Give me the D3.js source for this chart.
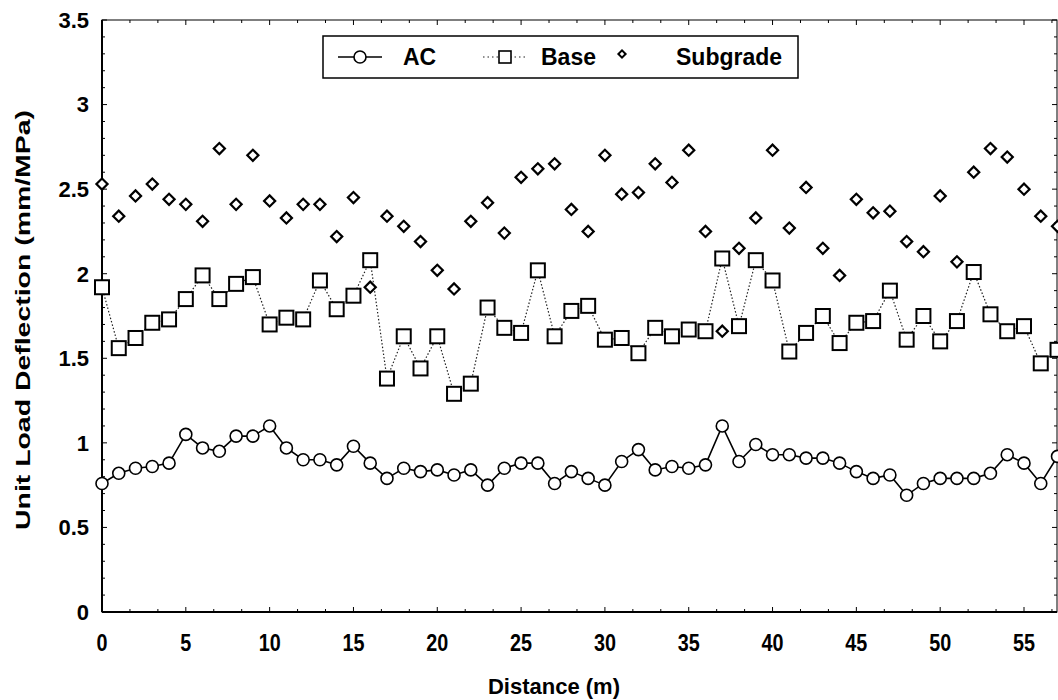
<!DOCTYPE html>
<html>
<head>
<meta charset="UTF-8">
<title>Unit Load Deflection</title>
<script src="https://d3js.org/d3.v7.min.js"></script>
<style>
  body { margin: 0; background: #fff; }
  svg text { font-family: "Liberation Sans", Arial, sans-serif; font-weight: bold; fill: #000; }
</style>
</head>
<body>
<div id="chart"></div>
<script>
// distance along the section (m)
const distance = [0,1,2,3,4,5,6,7,8,9,10,11,12,13,14,15,16,17,18,19,20,21,22,23,24,25,26,27,28,29,
  30,31,32,33,34,35,36,37,38,39,40,41,42,43,44,45,46,47,48,49,50,51,52,53,54,55,56,57];

// unit load deflection (mm/MPa)
const acValues = [0.76,0.82,0.85,0.86,0.88,1.05,0.97,0.95,1.04,1.04,1.10,0.97,0.90,0.90,0.87,0.98,0.88,0.79,0.85,0.83,
  0.84,0.81,0.84,0.75,0.85,0.88,0.88,0.76,0.83,0.79,0.75,0.89,0.96,0.84,0.86,0.85,0.87,1.10,0.89,0.99,
  0.93,0.93,0.91,0.91,0.88,0.83,0.79,0.81,0.69,0.76,0.79,0.79,0.79,0.82,0.93,0.88,0.76,0.92];
const baseValues = [1.92,1.56,1.62,1.71,1.73,1.85,1.99,1.85,1.94,1.98,1.70,1.74,1.73,1.96,1.79,1.87,2.08,1.38,1.63,1.44,
  1.63,1.29,1.35,1.80,1.68,1.65,2.02,1.63,1.78,1.81,1.61,1.62,1.53,1.68,1.63,1.67,1.66,2.09,1.69,2.08,
  1.96,1.54,1.65,1.75,1.59,1.71,1.72,1.90,1.61,1.75,1.60,1.72,2.01,1.76,1.66,1.69,1.47,1.55];
const subgradeValues = [2.53,2.34,2.46,2.53,2.44,2.41,2.31,2.74,2.41,2.70,2.43,2.33,2.41,2.41,2.22,2.45,1.92,2.34,2.28,2.19,
  2.02,1.91,2.31,2.42,2.24,2.57,2.62,2.65,2.38,2.25,2.70,2.47,2.48,2.65,2.54,2.73,2.25,1.66,2.15,2.33,
  2.73,2.27,2.51,2.15,1.99,2.44,2.36,2.37,2.19,2.13,2.46,2.07,2.60,2.74,2.69,2.50,2.34,2.28];

const xTicks = [0,5,10,15,20,25,30,35,40,45,50,55];
const yTicks = [0,0.5,1,1.5,2,2.5,3,3.5];
const seriesNames = ["AC", "Base", "Subgrade"];

const width = 1058, height = 700;
const plotLeft = 102, plotRight = 1057, plotTop = 20, plotBottom = 612;

const svg = d3.select("#chart").append("svg")
  .attr("width", width)
  .attr("height", height);

const x = d3.scaleLinear().domain([0, 55]).range([plotLeft, 1024]);
const y = d3.scaleLinear().domain([0, 3.5]).range([plotBottom, plotTop]);

// frame: heavy left and bottom axes, light top and right
svg.append("rect")
  .attr("x", plotLeft).attr("y", plotTop)
  .attr("width", plotRight - plotLeft).attr("height", plotBottom - plotTop)
  .attr("fill", "none").attr("stroke", "#000").attr("stroke-width", 1);
svg.append("line").attr("x1", plotLeft).attr("x2", plotLeft).attr("y1", plotTop).attr("y2", plotBottom)
  .attr("stroke", "#000").attr("stroke-width", 2);
svg.append("line").attr("x1", plotLeft).attr("x2", plotRight).attr("y1", plotBottom).attr("y2", plotBottom)
  .attr("stroke", "#000").attr("stroke-width", 2);

// inward ticks on all four sides
const yMinor = d3.range(0, 3.51, 0.1);
const xMinor = d3.range(0, 57.1, 5 / 3);
const isHalf = d => Math.abs(d * 2 - Math.round(d * 2)) < 0.01;

const ticks = svg.append("g").attr("stroke", "#000").attr("stroke-width", 1);
ticks.selectAll(".ylm").data(yMinor).join("line")
  .attr("x1", plotLeft).attr("x2", d => plotLeft + (isHalf(d) ? 5 : 3))
  .attr("y1", d => y(d)).attr("y2", d => y(d));
ticks.selectAll(".yrm").data(yMinor).join("line")
  .attr("x1", plotRight).attr("x2", d => plotRight - (isHalf(d) ? 5 : 3))
  .attr("y1", d => y(d)).attr("y2", d => y(d));
ticks.selectAll(".xbm").data(xMinor).join("line")
  .attr("x1", d => x(d)).attr("x2", d => x(d))
  .attr("y1", plotBottom).attr("y2", (d, i) => plotBottom - (i % 3 === 0 ? 5 : 3));
ticks.selectAll(".xtm").data(xMinor).join("line")
  .attr("x1", d => x(d)).attr("x2", d => x(d))
  .attr("y1", plotTop).attr("y2", (d, i) => plotTop + (i % 3 === 0 ? 5 : 3));

// axis labels
svg.append("g").selectAll("text").data(yTicks).join("text")
  .attr("x", 89).attr("y", d => y(d)).attr("dy", "0.36em")
  .attr("text-anchor", "end").attr("font-size", 22)
  .text(d => d);

svg.append("g").selectAll("text").data(xTicks).join("text")
  .attr("transform", d => `translate(${x(d)},${plotBottom + 30}) scale(0.9,1.1)`)
  .attr("dy", "0.36em")
  .attr("text-anchor", "middle").attr("font-size", 22)
  .text(d => d);

svg.append("text")
  .attr("x", 554).attr("y", 686).attr("dy", "0.36em")
  .attr("text-anchor", "middle").attr("font-size", 22)
  .text("Distance (m)");

svg.append("text")
  .attr("transform", `translate(22,${(plotTop + plotBottom) / 2 + 4}) rotate(-90)`)
  .attr("dy", "0.36em")
  .attr("text-anchor", "middle").attr("font-size", 21)
  .attr("textLength", 420).attr("lengthAdjust", "spacingAndGlyphs")
  .text("Unit Load Deflection (mm/MPa)");

// series
const plot = svg.append("g");

const line = d3.line().x((d, i) => x(distance[i])).y(d => y(d));

plot.append("path").datum(baseValues)
  .attr("d", line)
  .attr("fill", "none").attr("stroke", "#222").attr("stroke-width", 1.2)
  .attr("stroke-dasharray", "1.5,2");

plot.append("path").datum(acValues)
  .attr("d", line)
  .attr("fill", "none").attr("stroke", "#000").attr("stroke-width", 1.6);

const diamond = d3.symbol().type(d3.symbolSquare).size(62);

plot.selectAll(".sub").data(subgradeValues).join("path")
  .attr("transform", (d, i) => `translate(${x(distance[i])},${y(d)}) rotate(45)`)
  .attr("d", diamond)
  .attr("fill", "#fff").attr("stroke", "#000").attr("stroke-width", 2.2);

plot.selectAll(".base").data(baseValues).join("rect")
  .attr("x", (d, i) => x(distance[i]) - 7).attr("y", d => y(d) - 7)
  .attr("width", 14).attr("height", 14)
  .attr("fill", "#fff").attr("stroke", "#000").attr("stroke-width", 2);

plot.selectAll(".ac").data(acValues).join("circle")
  .attr("cx", (d, i) => x(distance[i])).attr("cy", d => y(d))
  .attr("r", 6)
  .attr("fill", "#fff").attr("stroke", "#000").attr("stroke-width", 1.6);

// legend
const lg = svg.append("g");
lg.append("rect")
  .attr("x", 323).attr("y", 36).attr("width", 475).attr("height", 42)
  .attr("fill", "#fff").attr("stroke", "#000").attr("stroke-width", 1.5);

const ly = 57;
lg.append("line").attr("x1", 338).attr("x2", 382).attr("y1", ly).attr("y2", ly)
  .attr("stroke", "#000").attr("stroke-width", 1.6);
lg.append("circle").attr("cx", 360).attr("cy", ly).attr("r", 6)
  .attr("fill", "#fff").attr("stroke", "#000").attr("stroke-width", 1.6);

lg.append("line").attr("x1", 483).attr("x2", 527).attr("y1", ly).attr("y2", ly)
  .attr("stroke", "#222").attr("stroke-width", 1.2).attr("stroke-dasharray", "1.5,3");
lg.append("rect").attr("x", 499).attr("y", ly - 6).attr("width", 12).attr("height", 12)
  .attr("fill", "#fff").attr("stroke", "#000").attr("stroke-width", 1.6);

lg.append("path")
  .attr("transform", `translate(622,${ly - 3}) rotate(45)`)
  .attr("d", d3.symbol().type(d3.symbolSquare).size(26))
  .attr("fill", "#fff").attr("stroke", "#000").attr("stroke-width", 2);

const labelX = [403, 541, 676];
lg.selectAll("text").data(seriesNames).join("text")
  .attr("x", (d, i) => labelX[i]).attr("y", ly).attr("dy", "0.36em")
  .attr("font-size", 23)
  .text(d => d);
</script>
</body>
</html>
